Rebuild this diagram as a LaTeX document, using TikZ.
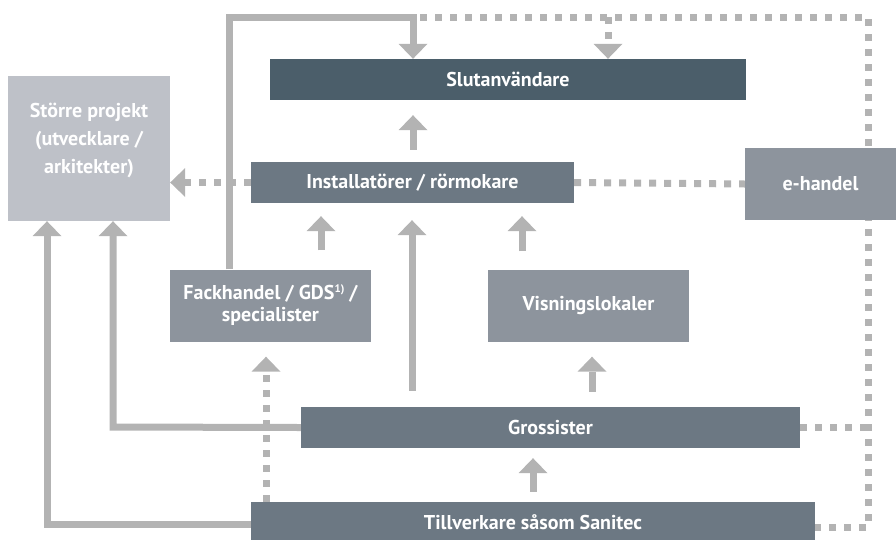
\documentclass[tikz,border=0pt]{standalone}
\usepackage{fontspec}
\setmainfont{PT Sans}
\usetikzlibrary{arrows.meta}
\definecolor{slutcol}{RGB}{75,94,106}
\definecolor{midcol}{RGB}{108,120,131}
\definecolor{lightcol}{RGB}{141,148,157}
\definecolor{palecol}{RGB}{190,193,200}
\definecolor{arrowgray}{RGB}{179,179,179}
\newcommand{\fnmark}{\raisebox{7pt}{\fontsize{11}{11}\selectfont 1)}}
\begin{document}
\begin{tikzpicture}[x=1pt,y=-1pt,
  box/.style={rectangle, inner sep=0pt, text=white, align=center,
    font=\bfseries\fontsize{20}{22}\selectfont},
  boxtext/.style={inner sep=0pt, text=white, align=center,
    font=\bfseries\fontsize{20}{28}\selectfont},
  conn/.style={draw=arrowgray, line width=7pt},
  arr/.style={conn, -{Triangle[width=29pt,length=15pt,line width=0pt]}},
  dots/.style={dash pattern=on 7pt off 8pt}]
\useasboundingbox (0,0) rectangle (896,539);

\coordinate (c1) at (229,17);
\coordinate (c2) at (413,17);
\coordinate (d0) at (420,17);
\coordinate (d1) at (868,17);
\coordinate (d2) at (868,527);
\coordinate (d3) at (608,17);
\coordinate (g1) at (113,427);
\coordinate (t1) at (47,524.5);

% nodes
\node[box, fill=slutcol, minimum width=476pt, minimum height=41pt] (slut) at (508,79.5) {Slutanvändare};
\node[box, fill=palecol, minimum width=162pt, minimum height=145pt] (storre) at (89,148.5) {};
\node[box, fill=midcol, minimum width=323pt, minimum height=41pt] (inst) at (412.5,182.5) {Installatörer / rörmokare};
\node[box, fill=lightcol, minimum width=151pt, minimum height=72pt] (ehandel) at (820.5,184) {e-handel};
\node[box, fill=lightcol, minimum width=201pt, minimum height=72pt] (fack) at (270.5,305.5) {Fackhandel / GDS\fnmark\ /\\specialister};
\node[box, fill=lightcol, minimum width=201pt, minimum height=72pt] (visn) at (588.5,305.5) {Visningslokaler};
\node[box, fill=midcol, minimum width=499pt, minimum height=41pt] (gross) at (550.5,427.5) {Grossister};
\node[box, fill=midcol, minimum width=564pt, minimum height=41pt] (till) at (533,522.5) {Tillverkare såsom Sanitec};
\node[boxtext] (storretxt) at (89,140) {Större projekt\\(utvecklare /\\arkitekter)};

% dotted network
\draw[conn, dots] (d0) -- (d1) -- (d2) -- (till.east |- d2);
\draw[conn, dots] (gross.east) -- (gross.east -| d2);
\draw[conn, dots] (inst.east) -- (ehandel.west);
\draw[arr, dots] (d3) -- (slut.north -| d3);
\draw[arr, dots] (inst.west) -- (storre.east |- inst.west);
\draw[arr, dots] (till.north -| 266,0) -- ([yshift=-15pt]fack.south -| 266,0);

% solid connectors
\draw[arr] (fack.north -| c1) -- (c1) -- (c2) -- (slut.north -| c2);
\draw[arr] (gross.west) -- (g1) -- (storre.south -| g1);
\draw[arr] (till.west |- t1) -- (t1) -- (storre.south -| t1);

% short arrows
\draw[arr, shorten <=12pt, shorten >=15pt] (inst.north -| 413,0) -- (slut.south -| 413,0);
\draw[arr, shorten <=19pt, shorten >=13pt] (fack.north -| 321,0) -- (inst.south -| 321,0);
\draw[arr, shorten <=16pt, shorten >=17pt] (gross.north -| 412,0) -- (inst.south -| 412,0);
\draw[arr, shorten <=18pt, shorten >=13pt] (visn.north -| 522,0) -- (inst.south -| 522,0);
\draw[arr, shorten <=15pt, shorten >=15pt] (gross.north -| 592,0) -- (visn.south -| 592,0);
\draw[arr, shorten <=10pt, shorten >=10pt] (till.north -| 533,0) -- (gross.south -| 533,0);

% boxes again on top of the lines
\node[box, fill=slutcol, minimum width=476pt, minimum height=41pt] at (slut) {Slutanvändare};
\node[box, fill=midcol, minimum width=323pt, minimum height=41pt] at (inst) {Installatörer / rörmokare};
\node[box, fill=lightcol, minimum width=151pt, minimum height=72pt] at (ehandel) {e-handel};
\node[box, fill=lightcol, minimum width=201pt, minimum height=72pt] at (fack) {Fackhandel / GDS\fnmark\ /\\specialister};
\node[box, fill=midcol, minimum width=499pt, minimum height=41pt] at (gross) {Grossister};
\node[box, fill=midcol, minimum width=564pt, minimum height=41pt] at (till) {Tillverkare såsom Sanitec};
\end{tikzpicture}
\end{document}
